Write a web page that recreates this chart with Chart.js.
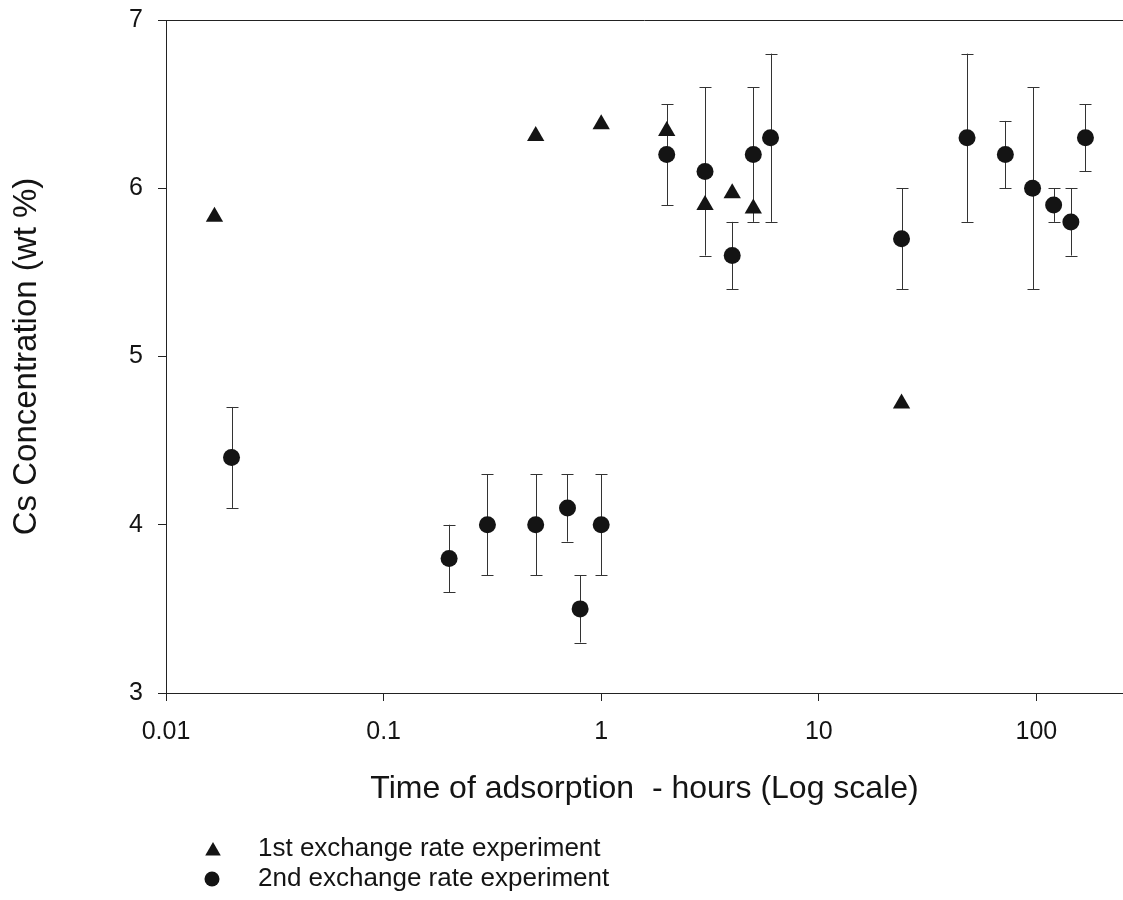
<!DOCTYPE html>
<html>
<head>
<meta charset="utf-8">
<title>Cs Concentration vs time</title>
<script src="https://cdn.jsdelivr.net/npm/chart.js@4.4.1/dist/chart.umd.min.js"></script>
<style>
  html, body { margin: 0; background: #fff; overflow: hidden; }
  canvas { display: block; }
</style>
</head>
<body>
<!-- canvas is a bit wider than the window: the plot runs off the right edge like the scan -->
<canvas id="chart" width="1133" height="900"></canvas>
<script>
// 1st experiment (no error bars)
const firstTime = [0.0167, 0.5, 1, 2, 3, 4, 5, 24];
const firstConc = [5.83, 6.31, 6.38, 6.34, 5.90, 5.97, 5.88, 4.72];

// 2nd experiment with error bars
const secondTime = [0.02, 0.2, 0.3, 0.5, 0.7, 0.8, 1, 2, 3, 4, 5, 6, 24, 48, 72, 96, 120, 144, 168];
const secondConc = [4.4, 3.8, 4.0, 4.0, 4.1, 3.5, 4.0, 6.2, 6.1, 5.6, 6.2, 6.3, 5.7, 6.3, 6.2, 6.0, 5.9, 5.8, 6.3];
const secondLow  = [4.1, 3.6, 3.7, 3.7, 3.9, 3.3, 3.7, 5.9, 5.6, 5.4, 5.8, 5.8, 5.4, 5.8, 6.0, 5.4, 5.8, 5.6, 6.1];
const secondHigh = [4.7, 4.0, 4.3, 4.3, 4.3, 3.7, 4.3, 6.5, 6.6, 5.8, 6.6, 6.8, 6.0, 6.8, 6.4, 6.6, 6.0, 6.0, 6.5];

const xTicks = [0.01, 0.1, 1, 10, 100];
const yTicks = [3, 4, 5, 6, 7];
const legendLabels = ["1st exchange rate experiment", "2nd exchange rate experiment"];

const FONT = "'Liberation Sans', Arial, sans-serif";
const INK = "#141414";

const toPoints = (xs, ys) => xs.map((x, i) => ({ x: x, y: ys[i] }));

// error bars + top frame line + legend
const extras = {
  id: "extras",
  beforeDatasetsDraw(chart) {
    const ctx = chart.ctx;
    const xs = chart.scales.x, ys = chart.scales.y;
    ctx.save();
    ctx.strokeStyle = "#333";
    ctx.lineWidth = 1;
    secondTime.forEach((t, i) => {
      const px = Math.round(xs.getPixelForValue(t)) + 0.5;
      const top = ys.getPixelForValue(secondHigh[i]);
      const bot = ys.getPixelForValue(secondLow[i]);
      ctx.beginPath();
      ctx.moveTo(px, top);
      ctx.lineTo(px, bot);
      ctx.moveTo(px - 6, Math.round(top) + 0.5);
      ctx.lineTo(px + 6, Math.round(top) + 0.5);
      ctx.moveTo(px - 6, Math.round(bot) + 0.5);
      ctx.lineTo(px + 6, Math.round(bot) + 0.5);
      ctx.stroke();
    });
    ctx.restore();
  },
  afterDraw(chart) {
    const ctx = chart.ctx;
    const area = chart.chartArea;
    ctx.save();
    ctx.strokeStyle = "#222";
    ctx.lineWidth = 1;
    ctx.beginPath();
    ctx.moveTo(area.left, Math.round(area.top) + 0.5);
    ctx.lineTo(area.right, Math.round(area.top) + 0.5);
    ctx.stroke();

    // legend
    ctx.fillStyle = INK;
    ctx.font = "26px " + FONT;
    ctx.textBaseline = "middle";
    ctx.textAlign = "left";
    Chart.helpers.drawPoint(ctx, { pointStyle: "triangle", radius: 9, borderWidth: 0 }, 213, 851);
    ctx.fillText(legendLabels[0], 258, 849);
    ctx.fillStyle = INK;
    Chart.helpers.drawPoint(ctx, { pointStyle: "circle", radius: 7.5, borderWidth: 0 }, 212, 879);
    ctx.fillStyle = INK;
    ctx.fillText(legendLabels[1], 258, 879);
    ctx.restore();
  }
};

new Chart(document.getElementById("chart"), {
  type: "scatter",
  data: {
    datasets: [
      {
        label: legendLabels[0],
        data: toPoints(firstTime, firstConc),
        pointStyle: "triangle",
        pointRadius: 10,
        backgroundColor: INK,
        borderColor: INK,
        borderWidth: 0
      },
      {
        label: legendLabels[1],
        data: toPoints(secondTime, secondConc),
        pointStyle: "circle",
        pointRadius: 8.5,
        backgroundColor: INK,
        borderColor: INK,
        borderWidth: 0
      }
    ]
  },
  options: {
    responsive: false,
    animation: false,
    layout: { padding: { top: 20, right: 0, bottom: 87, left: 0 } },
    plugins: {
      legend: { display: false },
      tooltip: { enabled: false }
    },
    scales: {
      x: {
        type: "logarithmic",
        min: 0.01,
        max: 250,
        afterBuildTicks: (scale) => { scale.ticks = xTicks.map(v => ({ value: v })); },
        afterFit: (scale) => { scale.height = 120; },
        border: { color: "#222", width: 1 },
        grid: { drawOnChartArea: false, drawTicks: true, tickLength: 8, color: "#222" },
        ticks: {
          color: INK,
          padding: 16,
          maxRotation: 0,
          autoSkip: false,
          font: { family: FONT, size: 25 },
          callback: (v) => String(v)
        },
        title: {
          display: true,
          text: "Time of adsorption  - hours (Log scale)",
          color: INK,
          padding: { top: 0, bottom: 5 },
          font: { family: FONT, size: 32 }
        }
      },
      y: {
        min: 3,
        max: 7,
        afterBuildTicks: (scale) => { scale.ticks = yTicks.map(v => ({ value: v })); },
        afterFit: (scale) => {
          scale.width = 166;
          scale.paddingTop = 0;
          scale.paddingBottom = 0;
        },
        border: { color: "#222", width: 1 },
        grid: { drawOnChartArea: false, drawTicks: true, tickLength: 8, color: "#222" },
        ticks: {
          color: INK,
          padding: 15,
          font: { family: FONT, size: 25 }
        },
        title: {
          display: true,
          text: "Cs Concentration (wt %)",
          color: INK,
          padding: { top: 7, bottom: 0 },
          font: { family: FONT, size: 33 }
        }
      }
    }
  },
  plugins: [extras]
});
</script>
</body>
</html>
